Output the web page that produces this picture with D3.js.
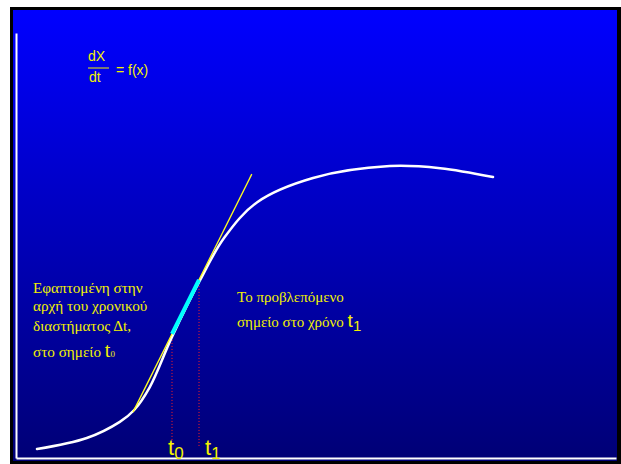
<!DOCTYPE html>
<html>
<head>
<meta charset="utf-8">
<script src="https://cdn.jsdelivr.net/npm/d3@7"></script>
<style>
  html, body { margin: 0; padding: 0; background: #ffffff; }
  svg { display: block; }
</style>
</head>
<body>
<svg id="chart" width="621" height="464"></svg>
<script>
// Solution curve X(t): time values and the matching X values
const curveT = [3.5, 11.8, 17.3, 19.7, 22.3, 26.0, 30.7, 34.7, 40.2, 49.5, 62.3, 70.7, 79.5];
const curveX = [2.1, 4.7, 8.5, 11.3, 16.7, 28.5, 41.9, 51.8, 60.2, 65.9, 68.7, 68.2, 66.1];

// Tangent line drawn at t0 (its two end points)
const tangentT = [19.5, 39.3];
const tangentX = [10.8, 66.8];

// Time step Δt from t0 to t1 and the predicted step along the tangent
const stepT = [26.0, 30.5];
const stepX = [29.2, 41.9];
// Lower end of the dotted drop lines at t0 and t1
const dropEndX = [3.8, 2.4];
// Subscripts of the time labels
const stepLabels = ["0", "1"];

const svg = d3.select("#chart");

// Frame and blue gradient panel
const defs = svg.append("defs");
const grad = defs.append("linearGradient")
  .attr("id", "bg").attr("x1", 0).attr("y1", 0).attr("x2", 0).attr("y2", 1);
grad.append("stop").attr("offset", "0%").attr("stop-color", "#0000ff");
grad.append("stop").attr("offset", "100%").attr("stop-color", "#000075");

svg.append("rect").attr("x", 10).attr("y", 7).attr("width", 611).attr("height", 457).attr("fill", "#000000");
svg.append("rect").attr("x", 13).attr("y", 10).attr("width", 604).attr("height", 451).attr("fill", "url(#bg)");

// Scales
const x = d3.scaleLinear().domain([0, 100]).range([16, 616]);
const y = d3.scaleLinear().domain([0, 100]).range([458, 33]);

// Axes without ticks
svg.append("g").attr("transform", `translate(0,${y(0)})`)
  .call(d3.axisBottom(x).tickValues([]).tickSizeOuter(0));
svg.append("g").attr("transform", `translate(${x(0)},0)`)
  .call(d3.axisLeft(y).tickValues([]).tickSizeOuter(0));
svg.selectAll(".domain").attr("stroke", "#ffffff").attr("stroke-width", 2);

// Dotted drop lines at t0 and t1
svg.append("g").selectAll("line").data(stepT).join("line")
  .attr("x1", d => x(d)).attr("x2", d => x(d))
  .attr("y1", (d, i) => y(stepX[i])).attr("y2", (d, i) => y(dropEndX[i]))
  .attr("stroke", "#ff2020").attr("stroke-width", 1)
  .attr("stroke-dasharray", "1,2");

// Solution curve
const curvePts = curveT.map((t, i) => [t, curveX[i]]);
const line = d3.line().x(d => x(d[0])).y(d => y(d[1])).curve(d3.curveCatmullRom.alpha(0.5));
svg.append("path").attr("d", line(curvePts))
  .attr("fill", "none").attr("stroke", "#ffffff").attr("stroke-width", 2.5)
  .attr("stroke-linecap", "round");

// Tangent at t0
const tanPts = tangentT.map((t, i) => [t, tangentX[i]]);
svg.append("path").attr("d", d3.line().x(d => x(d[0])).y(d => y(d[1]))(tanPts))
  .attr("fill", "none").attr("stroke", "#ffff20").attr("stroke-width", 1.3);

// Predicted step along the tangent
const stepPts = stepT.map((t, i) => [t, stepX[i]]);
svg.append("path").attr("d", d3.line().x(d => x(d[0])).y(d => y(d[1]))(stepPts))
  .attr("fill", "none").attr("stroke", "#00ffff").attr("stroke-width", 4);

const yellow = "#f2f200";
const sans = "'Liberation Sans', Arial, sans-serif";
const serif = "'Liberation Serif', 'Times New Roman', serif";

// Formula dX/dt = f(x)
const f = svg.append("g").attr("font-family", sans).attr("font-size", 14).attr("fill", yellow);
f.append("text").attr("x", 88).attr("y", 61).text("dX");
f.append("line").attr("x1", 88).attr("x2", 109).attr("y1", 68).attr("y2", 68)
  .attr("stroke", yellow).attr("stroke-width", 1);
f.append("text").attr("x", 89).attr("y", 82).text("dt");
f.append("text").attr("x", 116).attr("y", 75).text("= f(x)");

// Left label
const left = svg.append("g").attr("font-family", serif).attr("font-size", 15.2).attr("fill", yellow);
left.append("text").attr("x", 33).attr("y", 293).text("Εφαπτομένη στην");
left.append("text").attr("x", 33).attr("y", 311).text("αρχή του χρονικού");
left.append("text").attr("x", 33).attr("y", 331).text("διαστήματος Δt,");
const l4 = left.append("text").attr("x", 33).attr("y", 357);
l4.append("tspan").text("στο σημείο ");
l4.append("tspan").attr("font-size", 20).text("t");
l4.append("tspan").attr("font-size", 9).text("0");

// Right label
const right = svg.append("g").attr("font-family", serif).attr("font-size", 15).attr("fill", yellow);
right.append("text").attr("x", 237).attr("y", 302).text("Το προβλεπόμενο");
const r2 = right.append("text").attr("x", 237).attr("y", 327);
r2.append("tspan").text("σημείο στο χρόνο ");
r2.append("tspan").attr("font-family", sans).attr("font-size", 19).text("t");
r2.append("tspan").attr("font-family", sans).attr("font-size", 15).attr("dy", 4).text("1");

// Time labels under the curve
const tl = svg.append("g").attr("font-family", sans).attr("fill", yellow);
stepT.forEach((t, i) => {
  const txt = tl.append("text").attr("x", x(t) + (i === 0 ? -4 : 6)).attr("y", 455);
  txt.append("tspan").attr("font-size", 22).text("t");
  txt.append("tspan").attr("font-size", 17).attr("dy", 4).text(stepLabels[i]);
});
</script>
</body>
</html>
